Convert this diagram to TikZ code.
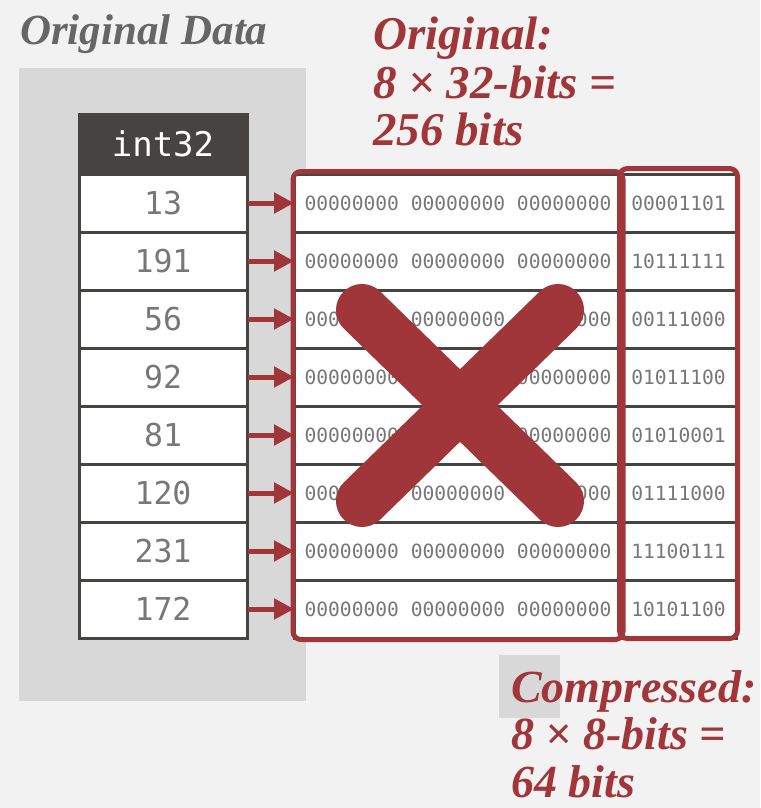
\documentclass[tikz,border=0pt]{standalone}
\usepackage{fontspec}
\setmainfont{Liberation Serif}
\newfontfamily\monofont{DejaVu Sans Mono}
\usetikzlibrary{arrows.meta}
\definecolor{bg}{HTML}{F2F2F2}
\definecolor{panel}{HTML}{D8D8D8}
\definecolor{dark}{HTML}{464440}
\definecolor{accent}{HTML}{A0353A}
\definecolor{txtgray}{HTML}{666666}
\definecolor{monogray}{HTML}{777777}
\tikzset{
  numcell/.style={draw=dark, line width=3pt, fill=white, minimum width=168pt, minimum height=58pt, inner sep=0pt,
    text=monogray, font=\monofont\fontsize{31.5}{31.5}\selectfont},
  hdrcell/.style={draw=dark, line width=3pt, fill=dark, minimum width=168pt, minimum height=60pt, inner sep=0pt,
    text=white, font=\monofont\fontsize{34}{34}\selectfont},
  bincell/.style={draw=dark, line width=3pt, fill=white, minimum height=58pt, inner sep=0pt,
    text=monogray, font=\monofont\fontsize{19.6}{19.6}\selectfont},
  hicell/.style={bincell, minimum width=327pt},
  locell/.style={bincell, minimum width=115pt},
  ptr/.style={draw=accent, line width=5pt, -{Triangle[length=20pt,width=20pt]}, shorten <=-1pt, shorten >=-1pt},
  redbox/.style={draw=accent, line width=5pt, rounded corners=8pt},
  bigx/.style={draw=accent, line width=52pt, line cap=round},
  redtitle/.style={anchor=base west, inner sep=0pt, text=accent, font=\bfseries\itshape\fontsize{47}{47}\selectfont},
  cmptitle/.style={redtitle, font=\bfseries\itshape\fontsize{46}{46}\selectfont},
  graytitle/.style={anchor=base west, inner sep=0pt, text=txtgray, font=\bfseries\itshape\fontsize{43}{43}\selectfont},
}
\begin{document}
\begin{tikzpicture}[x=1pt,y=-1pt]
\useasboundingbox (0,0) rectangle (760,808);
\fill[bg] (0,0) rectangle (760,808);
\fill[panel] (19,68) rectangle (306,701);
\fill[panel] (499,655) rectangle (560,718);

\node[graytitle] (t0) at (20,45) {Original Data};

\node[hdrcell] (hdr) at (163,144) {int32};
\foreach \i/\v/\h/\l in {1/13/00000000 00000000 00000000/00001101,
                         2/191/00000000 00000000 00000000/10111111,
                         3/56/00000000 00000000 00000000/00111000,
                         4/92/00000000 00000000 00000000/01011100,
                         5/81/00000000 00000000 00000000/01010001,
                         6/120/00000000 00000000 00000000/01111000,
                         7/231/00000000 00000000 00000000/11100111,
                         8/172/00000000 00000000 00000000/10101100}{
  \node[numcell] (v\i) at (163,{203+58*(\i-1)}) {\v};
  \node[hicell] (h\i) at (458,{203+58*(\i-1)}) {\h};
  \node[locell] (l\i) at (678.5,{203+58*(\i-1)}) {\l};
}
\foreach \i in {1,...,8}{
  \draw[ptr] (v\i.east) -- (h\i.west);
}

\draw[redbox] ([yshift=1pt]h1.north west) rectangle (h8.south east);
\draw[redbox] ([yshift=4pt]l1.north west) rectangle ([yshift=1pt]l8.south east);

\coordinate (xa) at (362,310);
\coordinate (xb) at (558,501);
\coordinate (xc) at (558,310);
\coordinate (xd) at (362,501);
\draw[bigx] (xa) -- (xb);
\draw[bigx] (xc) -- (xd);

\node[redtitle] (o1) at (373,50) {Original:};
\node[redtitle] (o2) at (373,98) {8 × 32-bits =};
\node[redtitle] (o3) at (373,145) {256 bits};

\node[cmptitle] (c1) at (511,702) {Compressed:};
\node[cmptitle] (c2) at (511,749) {8 × 8-bits =};
\node[cmptitle] (c3) at (511,797) {64 bits};
\end{tikzpicture}
\end{document}
